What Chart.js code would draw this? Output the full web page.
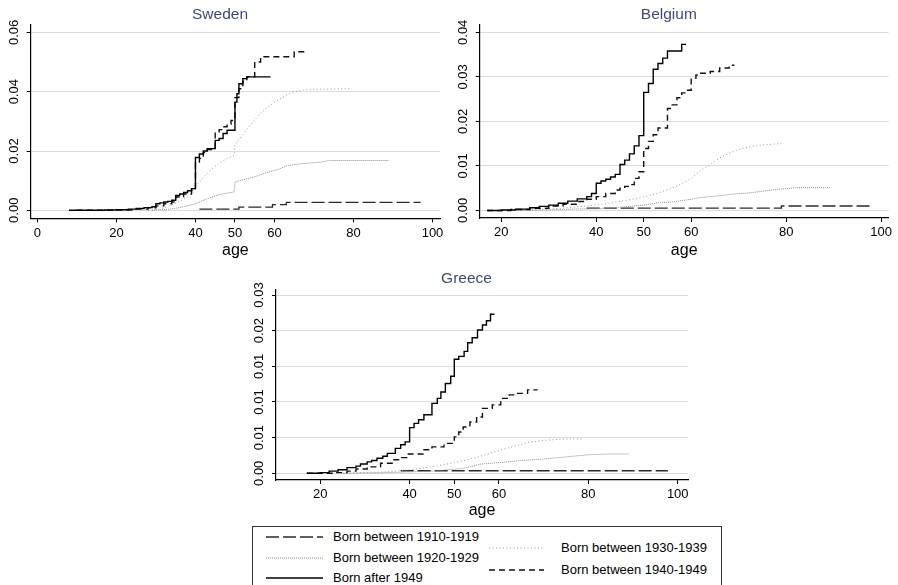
<!DOCTYPE html>
<html>
<head>
<meta charset="utf-8">
<script src="https://cdn.jsdelivr.net/npm/chart.js@4.4.1/dist/chart.umd.min.js"></script>
<style>
  body { margin: 0; background: #fff; width: 898px; height: 585px; overflow: hidden; position: relative;
         font-family: 'Liberation Sans', Arial, sans-serif; }
  canvas { position: absolute; }
  #legend { position: absolute; left: 252px; top: 526px; width: 470px; height: 80px;
            border: 1px solid #333; box-sizing: border-box; }
  #legend .item { position: absolute; height: 16px; }
  #legend svg { position: absolute; top: 0; }
  #legend span { position: absolute; top: 0; font-size: 13px; line-height: 16px; color: #000; white-space: nowrap; }
</style>
</head>
<body>
<canvas id="se" width="449" height="262" style="left:0;top:0"></canvas>
<canvas id="be" width="449" height="262" style="left:449px;top:0"></canvas>
<canvas id="gr" width="453" height="262" style="left:245px;top:262px"></canvas>
<div id="legend"></div>

<script>
// cohorts (legend order)
const cohorts = ['Born between 1910-1919', 'Born between 1920-1929', 'Born between 1930-1939',
                 'Born between 1940-1949', 'Born after 1949'];

// ---- Sweden ----
const seXTicks = [0, 20, 40, 50, 60, 80, 100];
const seYTicks = [0, 0.02, 0.04, 0.06];
const seYLabels = ['0.00', '0.02', '0.04', '0.06'];
const se1910Age = [41, 51, 59.5, 63, 97];
const se1910Val = [0.0004, 0.0011, 0.0019, 0.0027, 0.0027];
const se1920Age = [29, 33, 36, 40, 43, 46, 49.8, 50, 52, 55, 58, 61, 63, 66, 71.5, 74, 89];
const se1920Val = [0, 0.0003, 0.0009, 0.0022, 0.0039, 0.0053, 0.0062, 0.0095, 0.0103, 0.0113, 0.0127, 0.0138, 0.015, 0.0156, 0.0162, 0.0168, 0.0168];
const se1930Age = [28, 31, 33, 36, 38, 39.8, 40, 42, 44, 46, 48, 49.8, 50, 52, 54, 56, 58, 60, 62, 64, 66, 68, 79];
const se1930Val = [0, 0.0004, 0.0012, 0.003, 0.0045, 0.0065, 0.008, 0.011, 0.0138, 0.0158, 0.0175, 0.0185, 0.0222, 0.0255, 0.029, 0.032, 0.0345, 0.0365, 0.038, 0.0395, 0.0402, 0.0408, 0.041];
const se1940Age = [10, 20, 25, 28, 30, 32, 34, 35, 37, 39, 40, 41, 42, 43, 45, 46, 47, 48, 49, 50, 51, 52, 53, 55, 56.5, 65, 68];
const se1940Val = [0, 0.0001, 0.0004, 0.0008, 0.0015, 0.0022, 0.0028, 0.0045, 0.0055, 0.0068, 0.016, 0.0175, 0.0195, 0.0205, 0.0265, 0.0272, 0.0282, 0.029, 0.0303, 0.038, 0.041, 0.0435, 0.045, 0.05, 0.0518, 0.0535, 0.0535];
const se1949Age = [8, 17, 20, 23, 25, 27, 29, 30, 31, 32, 33, 34, 35, 36, 37, 38, 39, 40, 41, 42, 43, 45, 46, 47, 48, 50, 50.5, 51, 52, 53, 59];
const se1949Val = [0, 0.0001, 0.0002, 0.0004, 0.0006, 0.0009, 0.0012, 0.0022, 0.0025, 0.0028, 0.003, 0.0034, 0.005, 0.0055, 0.006, 0.0066, 0.0073, 0.0178, 0.019, 0.02, 0.0208, 0.0236, 0.0242, 0.0259, 0.027, 0.0365, 0.0393, 0.0427, 0.0444, 0.045, 0.045];

// ---- Belgium ----
const beXTicks = [20, 40, 50, 60, 80, 100];
const beYTicks = [0, 0.01, 0.02, 0.03, 0.04];
const beYLabels = ['0.00', '0.01', '0.02', '0.03', '0.04'];
const be1910Age = [38, 79, 98];
const be1910Val = [0.0005, 0.001, 0.001];
const be1920Age = [24, 30, 35, 40, 45, 50, 53, 56, 60, 62, 66, 69, 72, 75, 78, 82, 86, 89.2];
const be1920Val = [0, 0.0001, 0.0003, 0.0004, 0.0007, 0.0012, 0.0017, 0.0019, 0.0025, 0.0029, 0.0033, 0.0037, 0.0039, 0.0043, 0.0047, 0.0051, 0.0051, 0.0051];
const be1930Age = [22, 28, 33, 38, 42, 46, 50, 53, 56, 58, 60, 62, 64, 66, 68, 70, 72, 74, 76, 79];
const be1930Val = [0, 0.0002, 0.0005, 0.001, 0.0015, 0.0022, 0.003, 0.0039, 0.005, 0.006, 0.0072, 0.009, 0.0103, 0.0118, 0.0129, 0.0137, 0.0142, 0.0146, 0.0148, 0.015];
const be1940Age = [17, 22, 26, 30, 33, 36, 38, 40, 42, 44, 45, 46, 47, 48, 49, 50, 51, 52, 53, 55, 56, 57, 58, 59, 60, 61, 62, 64, 66, 68, 69.1];
const be1940Val = [0, 0.0002, 0.0005, 0.001, 0.0014, 0.002, 0.0025, 0.0031, 0.0038, 0.0046, 0.005, 0.0054, 0.0058, 0.0072, 0.0087, 0.0139, 0.0155, 0.017, 0.0185, 0.0229, 0.0237, 0.0253, 0.0264, 0.027, 0.0297, 0.0304, 0.0308, 0.0312, 0.032, 0.0326, 0.0326];
const be1949Age = [17, 20, 23, 26, 28, 30, 32, 34, 36, 38, 39, 40, 41, 42, 43, 44, 45, 46, 47, 48, 49, 50, 51, 52, 53, 54, 55, 58, 58.9];
const be1949Val = [0, 0.0001, 0.0003, 0.0006, 0.0009, 0.0012, 0.0016, 0.0021, 0.0026, 0.0031, 0.0038, 0.0061, 0.0066, 0.007, 0.0075, 0.0081, 0.0103, 0.0113, 0.0127, 0.0145, 0.0168, 0.0265, 0.0285, 0.0317, 0.033, 0.0342, 0.0358, 0.0373, 0.0373];

// ---- Greece ----
const grXTicks = [20, 40, 50, 60, 80, 100];
const grYTicks = [0, 0.005, 0.01, 0.015, 0.02, 0.025];
const grYLabels = ['0.00', '0.01', '0.01', '0.01', '0.02', '0.03'];
const gr1910Age = [38, 97.8];
const gr1910Val = [0.00036, 0.00036];
const gr1920Age = [25, 35, 45, 52, 56, 60, 65, 70, 75, 80, 85, 89.2];
const gr1920Val = [0, 0.0001, 0.0003, 0.0007, 0.0013, 0.0015, 0.0018, 0.002, 0.0023, 0.0026, 0.0027, 0.0027];
const gr1930Age = [25, 35, 40, 45, 50, 53, 57, 60, 64, 67, 70, 74, 79];
const gr1930Val = [0, 0.0002, 0.0005, 0.0009, 0.0015, 0.0019, 0.0026, 0.0032, 0.0039, 0.0044, 0.0046, 0.0048, 0.0048];
const gr1940Age = [17, 23, 26, 28, 30.5, 33.5, 36.5, 38, 39.4, 43, 45, 47.7, 50, 51, 52, 53.5, 55, 56.3, 58.5, 60.4, 62.3, 64, 66.4, 68.5];
const gr1940Val = [0, 0.0001, 0.0003, 0.0006, 0.0009, 0.0014, 0.0019, 0.0022, 0.0027, 0.0033, 0.0037, 0.0042, 0.0051, 0.0058, 0.0065, 0.0072, 0.0079, 0.0091, 0.0096, 0.0105, 0.011, 0.0112, 0.0117, 0.0118];
const gr1949Age = [17, 20, 22, 24, 26, 28, 29, 30.5, 31.5, 32.7, 34, 35, 36.8, 38, 39, 40, 41, 42, 43.2, 45, 46.2, 47, 48, 49.2, 50, 51, 52.2, 53, 54, 55.2, 56.3, 57.2, 58.1, 59];
const gr1949Val = [0, 0.0001, 0.0003, 0.0005, 0.0008, 0.001, 0.0013, 0.0016, 0.0018, 0.0021, 0.0024, 0.0028, 0.0035, 0.004, 0.0044, 0.0064, 0.007, 0.0075, 0.0082, 0.0098, 0.0105, 0.0114, 0.0126, 0.0136, 0.016, 0.0164, 0.0171, 0.0183, 0.019, 0.0201, 0.0208, 0.0214, 0.0223, 0.0223];

// line look per cohort (same order as cohorts)
const lineStyles = [
    { color: '#2a2a2a', width: 1.3, dash: [13, 4], stepped: true },
    { color: '#8c8c8c', width: 1, dash: [1, 1], stepped: false },
    { color: '#9a9a9a', width: 1, dash: [1, 2.5], stepped: false },
    { color: '#111111', width: 1.4, dash: [6, 4], stepped: true },
    { color: '#000000', width: 1.4, dash: [], stepped: true }
];

Chart.defaults.font.family = "'Liberation Sans', Arial, sans-serif";
Chart.defaults.color = '#000';

// age labels under the x axis, placed with the chart's own x scale
const xLabelPlugin = {
    id: 'xLabels',
    afterDraw(chart, args, opts) {
        const s = chart.scales.x, ctx = chart.ctx;
        ctx.save();
        ctx.font = "13px 'Liberation Sans', Arial, sans-serif";
        ctx.fillStyle = '#000';
        ctx.textAlign = 'center';
        ctx.textBaseline = 'middle';
        opts.values.forEach(v => ctx.fillText(String(v), s.getPixelForValue(v), s.top + 14.8));
        ctx.restore();
    }
};

function makePanel(id, title, ages, vals, xTicks, yTicks, yLabels, g) {
    const datasets = ages.map((a, i) => ({
        label: cohorts[i],
        data: a.map((x, j) => ({ x: x, y: vals[i][j] })),
        borderColor: lineStyles[i].color,
        borderWidth: lineStyles[i].width,
        borderDash: lineStyles[i].dash,
        stepped: lineStyles[i].stepped,
        pointRadius: 0,
        fill: false,
        tension: 0
    })).reverse(); // solid line drawn on top

    return new Chart(document.getElementById(id), {
        type: 'line',
        data: { datasets: datasets },
        plugins: [xLabelPlugin],
        options: {
            responsive: false,
            animation: false,
            devicePixelRatio: 1,
            layout: { padding: { left: 0, right: g.padRight, top: 0, bottom: 0 } },
            plugins: {
                legend: { display: false },
                tooltip: { enabled: false },
                xLabels: { values: xTicks },
                title: {
                    display: true,
                    text: title,
                    color: '#3f4a7c',
                    font: { size: 15.5, weight: 'normal' },
                    padding: { top: g.titleTop, bottom: g.titleBottom }
                }
            },
            scales: {
                x: {
                    type: 'linear',
                    min: g.xMin, max: g.xMax,
                    bounds: 'data',
                    afterBuildTicks: s => { s.ticks = xTicks.map(v => ({ value: v })); },
                    afterFit: s => { s.height = g.xAxisH; },
                    grid: { drawOnChartArea: false, drawTicks: true, tickLength: 4, tickColor: '#000' },
                    border: { display: true, color: '#000', width: 1.2 },
                    ticks: { display: false, autoSkip: false, maxRotation: 0 },
                    title: { display: true, text: 'age', font: { size: 16 }, color: '#000',
                             padding: { top: 0, bottom: g.ageBottom } }
                },
                y: {
                    type: 'linear',
                    min: g.yMin, max: g.yMax,
                    bounds: 'data',
                    afterBuildTicks: s => { s.ticks = yTicks.map(v => ({ value: v })); },
                    afterFit: s => { s.width = g.yAxisW; },
                    grid: { color: '#dcdcdc', lineWidth: 1, drawTicks: true, tickLength: 4, tickColor: '#000' },
                    border: { display: true, color: '#000', width: 1.2 },
                    ticks: { autoSkip: false, minRotation: 90, maxRotation: 90, crossAlign: 'center',
                             padding: 0, font: { size: 13 }, color: '#000',
                             callback: (v, i) => yLabels[i] }
                }
            }
        }
    });
}

makePanel('se', 'Sweden',
    [se1910Age, se1920Age, se1930Age, se1940Age, se1949Age],
    [se1910Val, se1920Val, se1930Val, se1940Val, se1949Val],
    seXTicks, seYTicks, seYLabels,
    { xMin: -1.7, xMax: 101.9, yMin: -0.0027, yMax: 0.0625, padRight: 9, yAxisW: 30.7,
      xAxisH: 43.7, titleTop: 5.7, titleBottom: 0.7, ageBottom: 1.5 });

makePanel('be', 'Belgium',
    [be1910Age, be1920Age, be1930Age, be1940Age, be1949Age],
    [be1910Val, be1920Val, be1930Val, be1940Val, be1949Val],
    beXTicks, beYTicks, beYLabels,
    { xMin: 15.45, xMax: 101.6, yMin: -0.0017, yMax: 0.04164, padRight: 9.3, yAxisW: 30.7,
      xAxisH: 44, titleTop: 5.7, titleBottom: 0.7, ageBottom: 1.5 });

makePanel('gr', 'Greece',
    [gr1910Age, gr1920Age, gr1930Age, gr1940Age, gr1949Age],
    [gr1910Val, gr1920Val, gr1930Val, gr1940Val, gr1949Val],
    grXTicks, grYTicks, grYLabels,
    { xMin: 10.1, xMax: 102.3, yMin: -0.00094, yMax: 0.0258, padRight: 10, yAxisW: 31,
      xAxisH: 44, titleTop: 7, titleBottom: 1.7, ageBottom: 4 });

// legend box (Stata-like, two columns)
const legendSlots = [
    { left: 13, top: 2, lineW: 57, gap: 10 },
    { left: 13, top: 23, lineW: 57, gap: 10 },
    { left: 236, top: 13, lineW: 55, gap: 17 },
    { left: 236, top: 35, lineW: 55, gap: 17 },
    { left: 13, top: 43, lineW: 57, gap: 10 }
];
const legend = document.getElementById('legend');
cohorts.forEach((name, i) => {
    const st = lineStyles[i], slot = legendSlots[i];
    const item = document.createElement('div');
    item.className = 'item';
    item.style.left = slot.left + 'px';
    item.style.top = slot.top + 'px';
    const dash = st.dash.length ? st.dash.join(' ') : 'none';
    item.innerHTML =
        '<svg width="' + slot.lineW + '" height="16"><line x1="0" y1="8" x2="' + slot.lineW + '" y2="8" stroke="' +
        st.color + '" stroke-width="' + st.width + '" stroke-dasharray="' + dash + '"/></svg>' +
        '<span style="left:' + (slot.lineW + slot.gap) + 'px">' + name + '</span>';
    legend.appendChild(item);
});
</script>
</body>
</html>
